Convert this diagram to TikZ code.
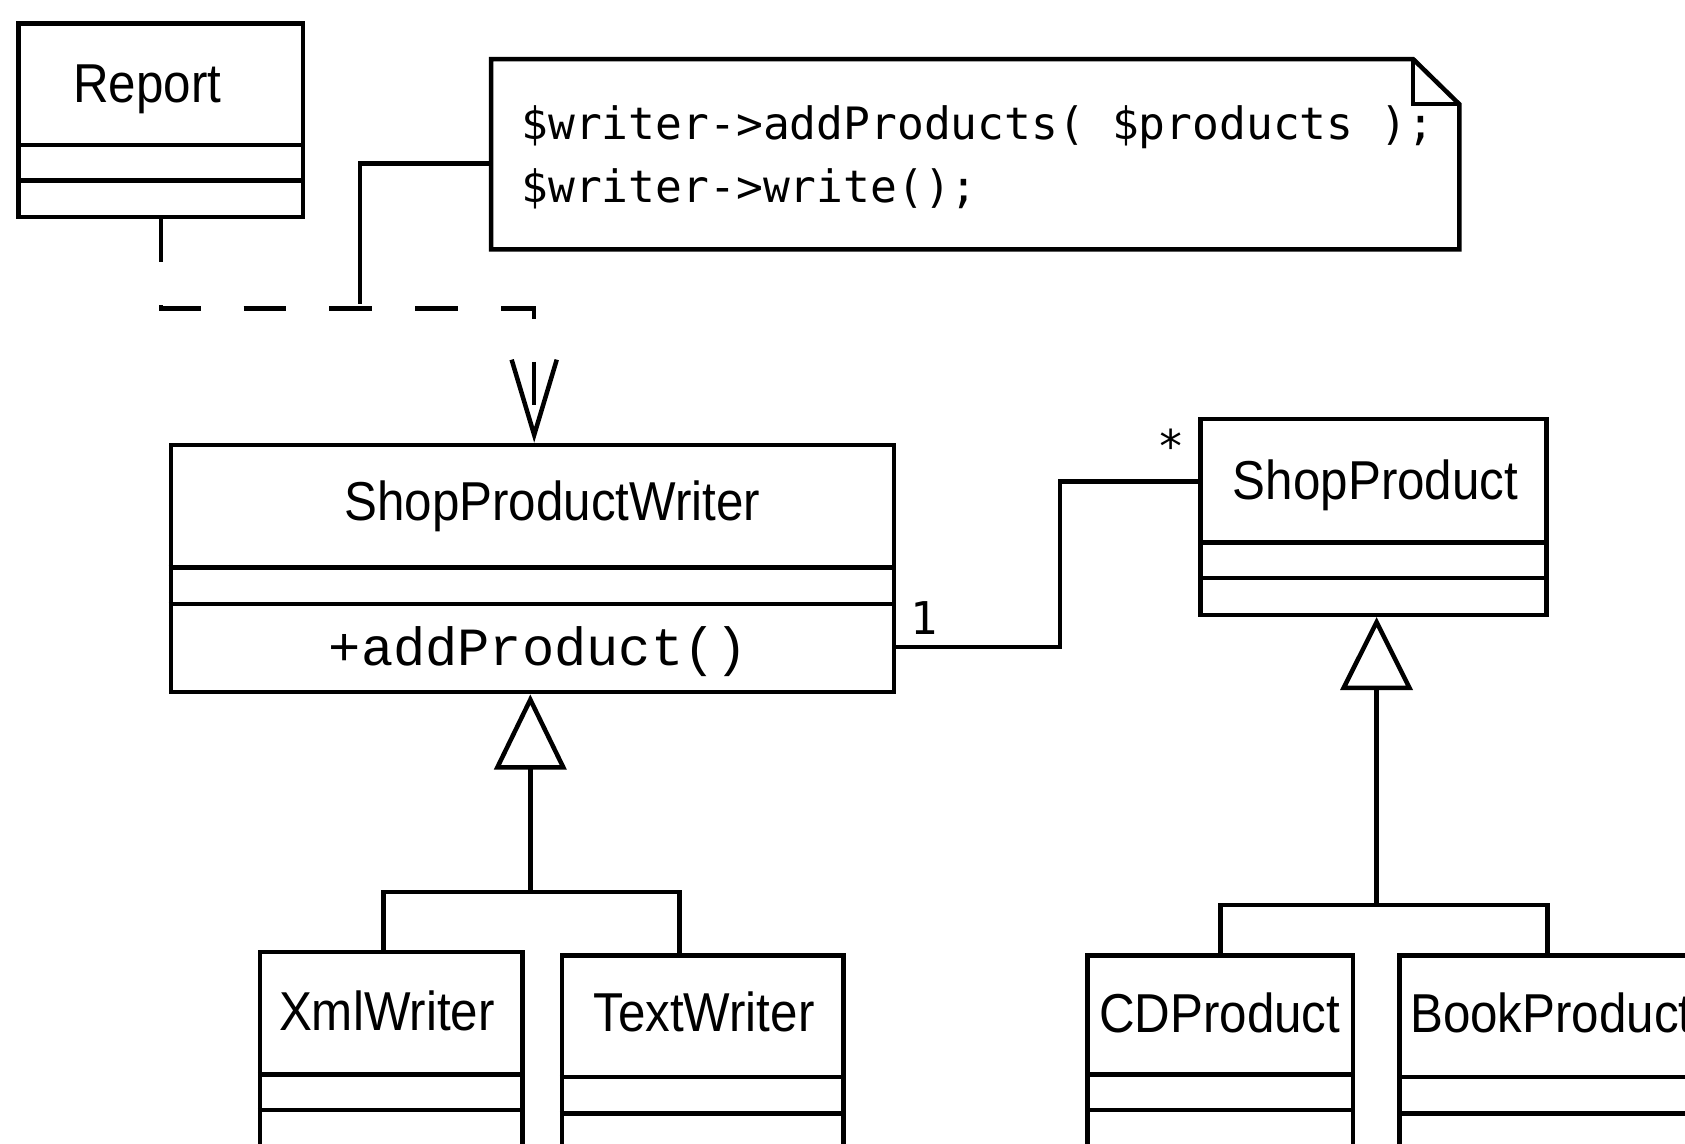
\documentclass[tikz,border=0pt]{standalone}
\usepackage{fontspec}
\usetikzlibrary{arrows.meta,calc}
\newfontfamily\clsfont[FakeStretch=0.9]{Liberation Sans}
\newfontfamily\codefont{DejaVu Sans Mono}
\newfontfamily\methfont{Liberation Mono}
\newcommand\UMLcls[7]{%
  \node[cls, minimum width=#4pt, minimum height=#5pt] (#1) at (#2,#3) {};
  \draw[conn] (#2,#6) -- ++(#4,0) (#2,#7) -- ++(#4,0);}
\begin{document}
\begin{tikzpicture}[x=1pt,y=-1pt,
  cls/.style={draw, line width=4.2pt, inner sep=0pt, anchor=north west},
  conn/.style={line width=4.2pt},
  clsname/.style={font=\clsfont\fontsize{51}{60}\selectfont, inner sep=0pt, anchor=base},
  code/.style={font=\codefont\fontsize{41.5}{50}\selectfont, inner sep=0pt, anchor=base west},
  meth/.style={font=\methfont\fontsize{50}{60}\selectfont, inner sep=0pt, anchor=base},
  mult/.style={font=\codefont\fontsize{42}{50}\selectfont, inner sep=0pt, anchor=base}]
\useasboundingbox (0,0) rectangle (1568,1064);
\clip (0,0) rectangle (1568,1064);
\fill[white] (0,0) rectangle (1568,1064);

% classes
\UMLcls{rep}{15}{20}{265}{180}{135}{168}
\node[clsname] (repn) at (137,95) {Report};

\UMLcls{spw}{157}{412}{673}{230}{528}{562}
\node[clsname] (spwn) at (514,484) {ShopProductWriter};
\node[meth] (spwm) at (501,619) {+addProduct()};

\UMLcls{sp}{1115}{388}{322}{182}{505}{538}
\node[clsname] (spn) at (1280,465) {ShopProduct};

\UMLcls{xml}{240}{884}{244}{300}{1000}{1033}
\node[clsname] (xmln) at (360,959) {XmlWriter};

\UMLcls{txt}{521}{887}{262}{300}{1002}{1036}
\node[clsname] (txtn) at (655,960) {TextWriter};

\UMLcls{cd}{1010}{887}{247}{300}{1000}{1033}
\node[clsname] (cdn) at (1135,961) {CDProduct};

\UMLcls{book}{1300}{887}{290}{300}{1002}{1036}
\node[clsname, anchor=base west] (bookn) at (1312,961) {BookProduct};

% note
\node[anchor=north west, minimum width=901pt, minimum height=177pt, inner sep=0pt, outer sep=0pt] (note) at (457,55) {};
\draw[conn, line join=miter] (note.north west) -- ([xshift=-43pt]note.north east)
  -- ([yshift=-42pt]note.north east) -- (note.south east) -- (note.south west) -- cycle;
\draw[conn] ([xshift=-43pt]note.north east) |- ([yshift=-42pt]note.north east);
\node[code] (nl1) at (485,130) {\$writer->addProducts( \$products );};
\node[code] (nl2) at (485,188) {\$writer->write();};

% dependency Report -> ShopProductWriter
\draw[conn, dash pattern=on 40pt off 40pt,
  -{Straight Barb[length=70pt,width=42pt,line width=4.2pt]}]
  (rep.south) -- ++(0,83) -| ([xshift=1.5pt]spw.north);

% note anchor line
\coordinate (njoin) at (335,283);
\draw[conn] ([yshift=-8.5pt]note.west) -| (njoin);

% association
\draw[conn] ([yshift=-73pt]spw.east) -- ++(152,0) |- ([yshift=33pt]sp.west);
\node[mult] (m1) at (860,590) {1};
\node[mult] (m2) at (1090,430) {*};

% generalization writers
\coordinate (g1) at (493.5,830);
\draw[conn, -{Triangle[open,length=70pt,width=67pt,line width=4.2pt]}] (g1) -- (g1 |- spw.south);
\draw[conn] ([xshift=-7pt]xml.north) |- (g1) -| ([xshift=-22pt]txt.north);

% generalization products
\coordinate (g2) at (1281,842);
\draw[conn, -{Triangle[open,length=68pt,width=67pt,line width=4.2pt]}] (g2) -- (g2 |- sp.south);
\draw[conn] (cd.north) |- (g2) -| ([xshift=-7pt]book.north);
\end{tikzpicture}
\end{document}
